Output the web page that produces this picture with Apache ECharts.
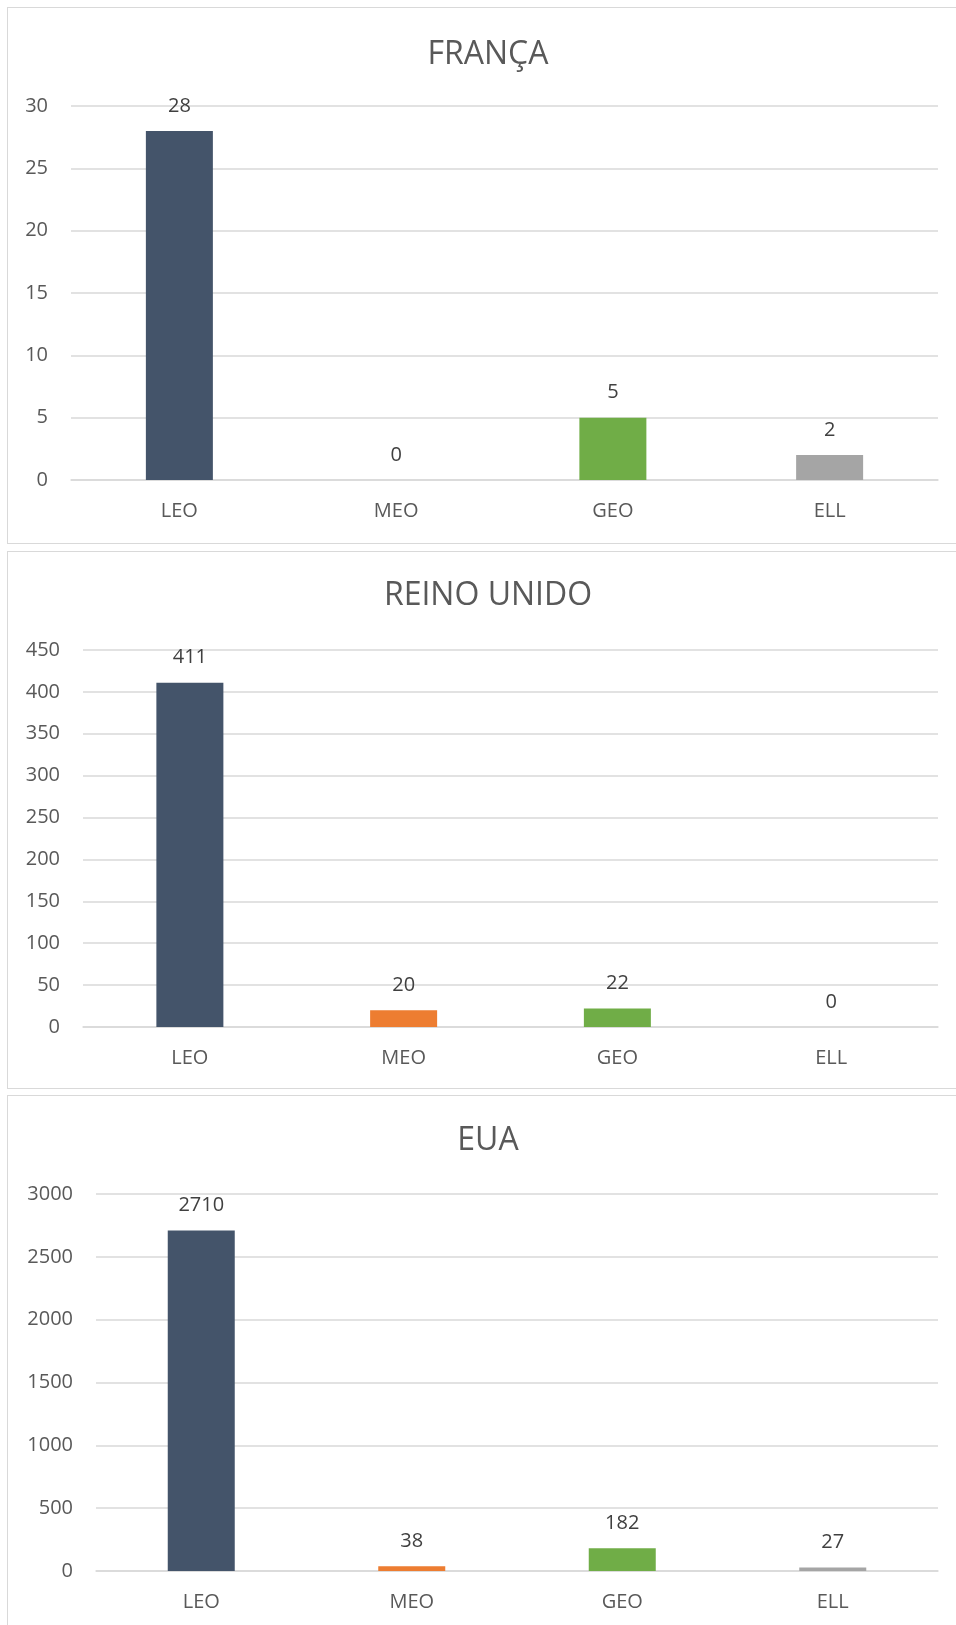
<!DOCTYPE html>
<html lang="pt">
<head>
<meta charset="UTF-8">
<script src="https://cdn.jsdelivr.net/npm/echarts@6/dist/echarts.min.js"></script>
<title>Satélites por órbita</title>
<style>
  html, body { margin: 0; padding: 0; background: #fff; }
  .panel { position: absolute; left: 7px; width: 1000px; border: 1.5px solid #d9d9d9; box-sizing: border-box; }
  #chart { position: absolute; left: 0; top: 0; width: 956px; height: 1625px; }
</style>
</head>
<body>
<div class="panel" style="top:7px;height:537px;"></div>
<div class="panel" style="top:551px;height:538px;"></div>
<div class="panel" style="top:1095px;height:600px;"></div>
<div id="chart"></div>
<script>
// categorias e valores
var orbits = ['LEO', 'MEO', 'GEO', 'ELL'];
var orbitColors = ['#44546A', '#ED7D31', '#70AD47', '#A5A5A5'];
var titles = ['FRANÇA', 'REINO UNIDO', 'EUA'];
var franca = [28, 0, 5, 2];
var reinoUnido = [411, 20, 22, 0];
var eua = [2710, 38, 182, 27];
var yMax = [30, 450, 3000];
var yStep = [5, 50, 500];

var chart = echarts.init(document.getElementById('chart'));
var font = 'Open Sans';
var txt = '#595959';

// layout dos três painéis
var gridPos = [
  { left: 71, top: 106, height: 374 },
  { left: 83, top: 650, height: 377 },
  { left: 96, top: 1194, height: 377 }
];
var titleTop = [39, 580, 1125];
var values = [franca, reinoUnido, eua];

var option = { animation: false, title: [], grid: [], xAxis: [], yAxis: [], series: [] };

for (let i = 0; i < 3; i++) {
  option.title.push({
    text: titles[i], left: 488, top: titleTop[i], textAlign: 'center', padding: 0,
    textStyle: { fontFamily: font, fontSize: 32, fontWeight: 'normal', color: txt }
  });
  option.grid.push({ left: gridPos[i].left, right: 18, top: gridPos[i].top, height: gridPos[i].height });
  option.xAxis.push({
    type: 'category', gridIndex: i, data: orbits,
    axisLine: { lineStyle: { color: '#d9d9d9', width: 1.5 } },
    axisTick: { show: false },
    axisLabel: { margin: 21, fontFamily: font, fontSize: 20, color: txt }
  });
  option.yAxis.push({
    type: 'value', gridIndex: i, min: 0, max: yMax[i], interval: yStep[i],
    axisLine: { show: false }, axisTick: { show: false },
    splitLine: { lineStyle: { color: '#d9d9d9', width: 1.5 } },
    axisLabel: { margin: 23, fontFamily: font, fontSize: 20, color: txt,
      formatter: function (v) { return String(v); } }
  });
  option.series.push({
    type: 'bar', xAxisIndex: i, yAxisIndex: i, barWidth: 67,
    data: values[i],
    itemStyle: { color: function (p) { return orbitColors[p.dataIndex]; } },
    label: { show: true, position: 'top', distance: 15, fontFamily: font, fontSize: 20, color: '#404040' }
  });
}

chart.setOption(option);
</script>
</body>
</html>
